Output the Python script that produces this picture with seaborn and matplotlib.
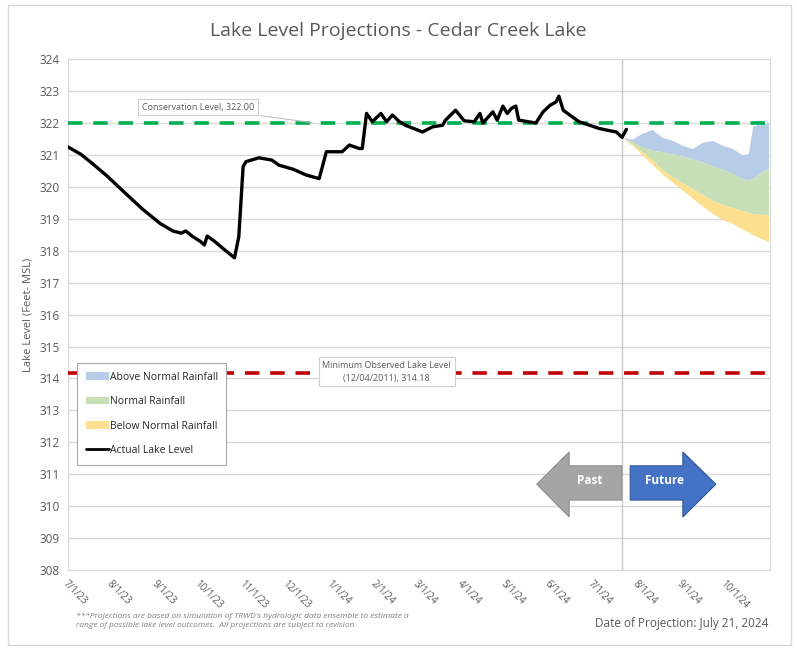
import pandas as pd
import matplotlib.pyplot as plt
import matplotlib.dates as mdates
from matplotlib.patches import Polygon, Patch, Rectangle
from matplotlib.lines import Line2D
import seaborn as sns

# niveles observados (pies MSL)
fechas_obs = ['2023-07-01', '2023-07-10', '2023-07-18', '2023-07-28', '2023-08-10',
              '2023-08-22', '2023-09-03', '2023-09-12', '2023-09-18', '2023-09-21',
              '2023-09-26', '2023-10-01', '2023-10-04', '2023-10-06', '2023-10-11',
              '2023-10-17', '2023-10-25', '2023-10-28', '2023-10-31', '2023-11-02',
              '2023-11-11', '2023-11-20', '2023-11-25', '2023-12-05', '2023-12-14',
              '2023-12-23', '2023-12-28', '2024-01-08', '2024-01-13', '2024-01-20',
              '2024-01-22', '2024-01-25', '2024-01-29', '2024-02-04', '2024-02-08',
              '2024-02-12', '2024-02-17', '2024-02-21', '2024-03-04', '2024-03-11',
              '2024-03-18', '2024-03-20', '2024-03-27', '2024-04-02', '2024-04-09',
              '2024-04-13', '2024-04-15', '2024-04-22', '2024-04-25', '2024-04-29',
              '2024-05-02', '2024-05-05', '2024-05-08', '2024-05-10', '2024-05-22',
              '2024-05-27', '2024-06-01', '2024-06-05', '2024-06-07', '2024-06-10',
              '2024-06-21', '2024-07-05', '2024-07-10', '2024-07-17', '2024-07-21',
              '2024-07-24']
nivel_obs = [321.25, 321.02, 320.73, 320.35, 319.80,
             319.30, 318.86, 318.62, 318.55, 318.62,
             318.44, 318.30, 318.18, 318.46, 318.30,
             318.07, 317.78, 318.44, 320.63, 320.79,
             320.91, 320.84, 320.68, 320.55, 320.37,
             320.26, 321.10, 321.10, 321.31, 321.20,
             321.20, 322.30, 322.04, 322.30, 322.04,
             322.25, 322.04, 321.93, 321.72, 321.88,
             321.93, 322.09, 322.40, 322.07, 322.04,
             322.30, 322.00, 322.35, 322.09, 322.53,
             322.30, 322.46, 322.53, 322.09, 322.00,
             322.35, 322.56, 322.66, 322.84, 322.40,
             322.04, 321.83, 321.78, 321.72, 321.55,
             321.80]

# proyecciones
fechas_proy = ['2024-07-21', '2024-07-28', '2024-08-04', '2024-08-11', '2024-08-18',
               '2024-08-25', '2024-09-01', '2024-09-08', '2024-09-15', '2024-09-22',
               '2024-09-29', '2024-10-06', '2024-10-13', '2024-10-17', '2024-10-20',
               '2024-10-24', '2024-10-31']
arriba_sup = [321.55, 321.50, 321.68, 321.80, 321.55, 321.46, 321.30, 321.20, 321.40,
              321.45, 321.30, 321.20, 321.00, 321.05, 321.90, 321.97, 322.00]
normal_sup = [321.55, 321.42, 321.25, 321.15, 321.10, 321.03, 320.97, 320.88, 320.78,
              320.65, 320.55, 320.42, 320.25, 320.20, 320.28, 320.40, 320.58]
abajo_sup = [321.55, 321.35, 321.10, 320.85, 320.53, 320.32, 320.13, 319.95, 319.75,
             319.58, 319.45, 319.35, 319.25, 319.20, 319.17, 319.15, 319.12]
abajo_inf = [321.55, 321.30, 321.00, 320.70, 320.40, 320.15, 319.90, 319.65, 319.40,
             319.17, 318.98, 318.85, 318.68, 318.58, 318.50, 318.42, 318.28]

nivel_conservacion = 322.00
nivel_minimo = 314.18
fecha_proyeccion = '2024-07-21'
xticks = ['2023-07-01', '2023-08-01', '2023-09-01', '2023-10-01', '2023-11-01',
          '2023-12-01', '2024-01-01', '2024-02-01', '2024-03-01', '2024-04-01',
          '2024-05-01', '2024-06-01', '2024-07-01', '2024-08-01', '2024-09-01',
          '2024-10-01']

cor_azul = '#B7CCE6'
cor_verde = '#C7DFB6'
cor_amarelo = '#FCE08F'
cinza = '#595959'

df = pd.DataFrame({'data': pd.to_datetime(fechas_obs), 'nivel': nivel_obs})
dp = pd.DataFrame({'data': pd.to_datetime(fechas_proy), 'a': arriba_sup,
                   'n': normal_sup, 'b': abajo_sup, 'i': abajo_inf})

sns.set_style('white')
plt.rcParams['font.family'] = ['Open Sans', 'DejaVu Sans']

fig = plt.figure(figsize=(7.97, 6.5), dpi=100)
ax = fig.add_axes([0.0853, 0.123, 0.8807, 0.786])

# marco exterior
fig.patches.append(Rectangle((0.01, 0.008), 0.982, 0.985, transform=fig.transFigure,
                             fill=False, edgecolor='#D9D9D9', lw=1))

ax.fill_between(dp['data'], dp['n'], dp['a'], color=cor_azul, lw=0)
ax.fill_between(dp['data'], dp['b'], dp['n'], color=cor_verde, lw=0)
ax.fill_between(dp['data'], dp['i'], dp['b'], color=cor_amarelo, lw=0)

ax.axhline(nivel_conservacion, color='#00B050', lw=2.6, ls=(0, (4, 3)), zorder=3)
ax.axhline(nivel_minimo, color='#C00000', lw=2.6, ls=(0, (4, 3)), zorder=3)
ax.axvline(pd.Timestamp(fecha_proyeccion), color='#C8C8C8', lw=1, zorder=1)

sns.lineplot(data=df, x='data', y='nivel', color='black', lw=2.4, ax=ax, zorder=4)

ax.set_xlim(pd.Timestamp('2023-07-01'), pd.Timestamp('2024-11-01'))
ax.set_ylim(308, 324)
ax.set_yticks(range(308, 325))
ax.grid(axis='y', color='#D9D9D9', lw=1)
ax.set_axisbelow(True)
for s in ax.spines.values():
    s.set_color('#D9D9D9')
ax.set_xticks(pd.to_datetime(xticks))
ax.xaxis.set_major_formatter(mdates.DateFormatter('%-m/%-d/%y'))
ax.tick_params(axis='x', labelrotation=-45, labelsize=7, colors=cinza, length=0, pad=6)
ax.tick_params(axis='y', labelsize=8.5, colors=cinza, length=0, pad=6)
for t in ax.get_xticklabels():
    t.set_ha('left')
    t.set_rotation_mode('anchor')
ax.set_xlabel('')
ax.set_ylabel('Lake Level (Feet- MSL)', fontsize=8, color=cinza, labelpad=4)

fig.text(0.5, 0.952, 'Lake Level Projections - Cedar Creek Lake', ha='center', va='center',
         fontsize=14, color=cinza)

# etiquetas de las lineas
caixa = dict(boxstyle='square,pad=0.4', fc='white', ec='#D0D0D0', lw=0.8)
ax.annotate('Conservation Level, 322.00', xy=(pd.Timestamp('2023-12-20'), nivel_conservacion),
            xytext=(0.185, 0.906), textcoords='axes fraction', ha='center', va='center',
            fontsize=6.5, color=cinza, bbox=caixa,
            arrowprops=dict(arrowstyle='-', color='#BFBFBF', lw=0.8))
ax.text(0.454, 0.388, 'Minimum Observed Lake Level\n(12/04/2011), 314.18', transform=ax.transAxes,
        ha='center', va='center', fontsize=6.5, color=cinza, bbox=caixa, zorder=5,
        linespacing=1.5)

# flechas pasado / futuro
seta_passado = [(0.668, 0.168), (0.714, 0.231), (0.714, 0.204), (0.789, 0.204),
                (0.789, 0.137), (0.714, 0.137), (0.714, 0.104)]
seta_futuro = [(0.923, 0.168), (0.876, 0.231), (0.876, 0.204), (0.801, 0.204),
               (0.801, 0.137), (0.876, 0.137), (0.876, 0.104)]
ax.add_patch(Polygon(seta_passado, closed=True, transform=ax.transAxes, fc='#A5A5A5',
                     ec='#8C8C8C', lw=0.8, zorder=5))
ax.add_patch(Polygon(seta_futuro, closed=True, transform=ax.transAxes, fc='#4472C4',
                     ec='#2F5597', lw=0.8, zorder=5))
ax.text(0.743, 0.175, 'Past', transform=ax.transAxes, ha='center', va='center',
        fontsize=8.5, color='white', fontweight='bold', zorder=6)
ax.text(0.85, 0.175, 'Future', transform=ax.transAxes, ha='center', va='center',
        fontsize=8.5, color='white', fontweight='bold', zorder=6)

handles = [Patch(fc=cor_azul, ec='none'), Patch(fc=cor_verde, ec='none'),
           Patch(fc=cor_amarelo, ec='none'), Line2D([], [], color='black', lw=2)]
labels = ['Above Normal Rainfall', 'Normal Rainfall', 'Below Normal Rainfall', 'Actual Lake Level']
leg = ax.legend(handles, labels, loc='upper left', bbox_to_anchor=(0.006, 0.415), fontsize=7.5,
                frameon=True, fancybox=False, edgecolor='#A6A6A6', framealpha=1,
                handlelength=2.2, handleheight=0.8, handletextpad=0.1, labelspacing=1.3,
                borderpad=0.8, labelcolor='#262626')
leg.get_frame().set_linewidth(0.8)
leg.set_zorder(6)

fig.text(0.095, 0.045, "***Projections are based on simulation of TRWD's hydrologic data ensemble to estimate a\n"
         "range of possible lake level outcomes.  All projections are subject to revision.",
         fontsize=6, style='italic', color='#7F7F7F', va='center', linespacing=1.5)
fig.text(0.964, 0.04, 'Date of Projection: July 21, 2024', ha='right', va='center',
         fontsize=8.5, color=cinza)

fig.savefig('out.png', dpi=100)
